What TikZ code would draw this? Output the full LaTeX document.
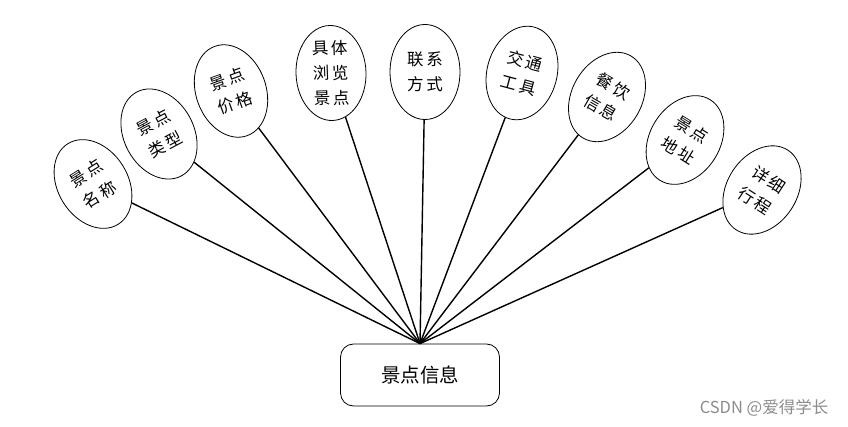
\documentclass[tikz,border=0pt]{standalone}
\usepackage{fontspec}
\setmainfont{Noto Sans CJK SC}
\usetikzlibrary{shapes.geometric}
\begin{document}
\begin{tikzpicture}[x=1pt,y=-1pt,
  attr/.style={draw,line width=0.8pt,ellipse,fill=white,minimum width=70pt,minimum height=95pt,
    inner sep=0pt,align=center,font=\fontsize{16.5}{25}\selectfont},
  entity/.style={draw,line width=0.8pt,rounded corners=13pt,fill=white,minimum width=159pt,
    minimum height=62pt,font=\fontsize{19.5}{22}\selectfont},
  link/.style={line width=1.4pt}]
  \useasboundingbox (0,0) rectangle (848,427);
  \node[entity] (info) at (420,375) {景点信息};
  \node[attr,rotate=32] (name) at (93,184) {景\,点\\名\,称};
  \node[attr,rotate=28] (type) at (159,134) {景\,点\\类\,型};
  \node[attr,rotate=20] (price) at (231,91) {景\,点\\价\,格};
  \node[attr,rotate=2] (browse) at (331,73) {具\,体\\浏\,览\\景\,点};
  \node[attr] (contact) at (425,72) {联\,系\\方\,式};
  \node[attr,rotate=-15] (traffic) at (522,73) {交\,通\\工\,具};
  \node[attr,rotate=-30] (food) at (607,97) {餐\,饮\\信\,息};
  \node[attr,rotate=-32] (addr) at (685,140) {景\,点\\地\,址};
  \node[attr,rotate=-33] (trip) at (762,190) {详\,细\\行\,程};
  \draw[link] (name) -- (info.north);
  \draw[link] (type) -- (info.north);
  \draw[link] (price) -- (info.north);
  \draw[link] (browse) -- (info.north);
  \draw[link] (contact) -- (info.north);
  \draw[link] (traffic) -- (info.north);
  \draw[link] (food) -- (info.north);
  \draw[link] (addr) -- (info.north);
  \draw[link] (trip) -- (info.north);
  \node[text=black!45,font=\fontsize{16.5}{18}\selectfont] (mark) at (764,408) {CSDN @爱得学长};
\end{tikzpicture}
\end{document}
